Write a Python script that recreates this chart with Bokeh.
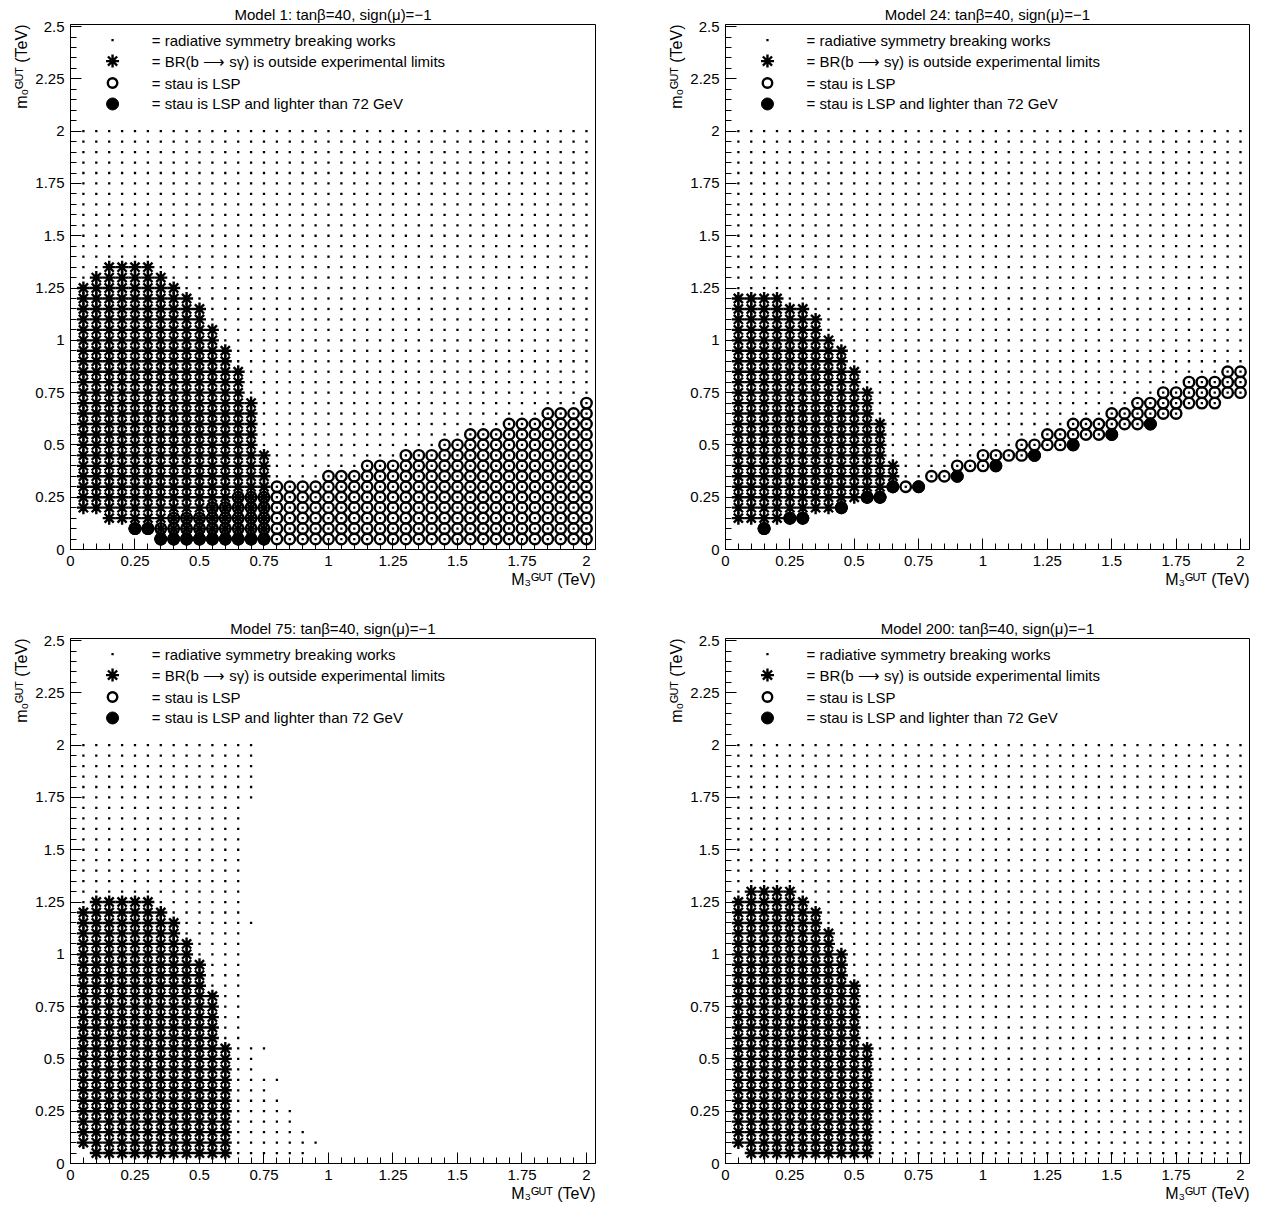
from bokeh.plotting import figure
from bokeh.models import Range1d, FixedTicker, CustomJSTickFormatter, Label, Title
from bokeh.layouts import column, row
from bokeh.embed import file_html
from bokeh.resources import INLINE

FONT = "Liberation Sans"

# ---------------- data (TeV) ----------------
# scan columns in M3^GUT
M3 = [0.05, 0.10, 0.15, 0.20, 0.25, 0.30, 0.35, 0.40, 0.45, 0.50,
      0.55, 0.60, 0.65, 0.70, 0.75, 0.80, 0.85, 0.90, 0.95, 1.00,
      1.05, 1.10, 1.15, 1.20, 1.25, 1.30, 1.35, 1.40, 1.45, 1.50,
      1.55, 1.60, 1.65, 1.70, 1.75, 1.80, 1.85, 1.90, 1.95, 2.00]

X_TICKS = [0, 0.25, 0.5, 0.75, 1.0, 1.25, 1.5, 1.75, 2.0]
Y_TICKS = [0, 0.25, 0.5, 0.75, 1.0, 1.25, 1.5, 1.75, 2.0, 2.25, 2.5]

TITLES = ["Model 1: tan\u03b2=40, sign(\u03bc)=\u22121",
          "Model 24: tan\u03b2=40, sign(\u03bc)=\u22121",
          "Model 75: tan\u03b2=40, sign(\u03bc)=\u22121",
          "Model 200: tan\u03b2=40, sign(\u03bc)=\u22121"]

X_LABEL = "M\u2083\u1d33\u1d41\u1d40 (TeV)"
Y_LABEL = "m\u2080\u1d33\u1d41\u1d40 (TeV)"

LEGEND_TEXT = ["= radiative symmetry breaking works",
               "= BR(b \u27f6 s\u03b3) is outside experimental limits",
               "= stau is LSP",
               "= stau is LSP and lighter than 72 GeV"]

# ---- Model 1 ----
M1_RSB_X = M3
M1_RSB_LO = [0.20, 0.20, 0.15, 0.15, 0.10, 0.10, 0.05, 0.05, 0.05, 0.05,
             0.05, 0.05, 0.05, 0.05, 0.05, 0.05, 0.05, 0.05, 0.05, 0.05,
             0.05, 0.05, 0.05, 0.05, 0.05, 0.05, 0.05, 0.05, 0.05, 0.05,
             0.05, 0.05, 0.05, 0.05, 0.05, 0.05, 0.05, 0.05, 0.05, 0.05]
M1_RSB_HI = [2.00, 2.00, 2.00, 2.00, 2.00, 2.00, 2.00, 2.00, 2.00, 2.00,
             2.00, 2.00, 2.00, 2.00, 2.00, 2.00, 2.00, 2.00, 2.00, 2.00,
             2.00, 2.00, 2.00, 2.00, 2.00, 2.00, 2.00, 2.00, 2.00, 2.00,
             2.00, 2.00, 2.00, 2.00, 2.00, 2.00, 2.00, 2.00, 2.00, 2.00]
M1_BSG_X = [0.05, 0.10, 0.15, 0.20, 0.25, 0.30, 0.35, 0.40, 0.45, 0.50, 0.55, 0.60, 0.65, 0.70, 0.75]
M1_BSG_LO = [0.20, 0.20, 0.15, 0.15, 0.10, 0.10, 0.05, 0.05, 0.05, 0.05, 0.05, 0.05, 0.05, 0.05, 0.05]
M1_BSG_HI = [1.25, 1.30, 1.35, 1.35, 1.35, 1.35, 1.30, 1.25, 1.20, 1.15, 1.05, 0.95, 0.85, 0.70, 0.45]
M1_LSP_X = [0.25, 0.30, 0.35, 0.40, 0.45, 0.50, 0.55, 0.60, 0.65, 0.70, 0.75,
            0.80, 0.85, 0.90, 0.95, 1.00, 1.05, 1.10, 1.15, 1.20, 1.25, 1.30,
            1.35, 1.40, 1.45, 1.50, 1.55, 1.60, 1.65, 1.70, 1.75, 1.80, 1.85,
            1.90, 1.95, 2.00]
M1_LSP_LO = [0.10, 0.10, 0.05, 0.05, 0.05, 0.05, 0.05, 0.05, 0.05, 0.05, 0.05,
             0.05, 0.05, 0.05, 0.05, 0.05, 0.05, 0.05, 0.05, 0.05, 0.05, 0.05,
             0.05, 0.05, 0.05, 0.05, 0.05, 0.05, 0.05, 0.05, 0.05, 0.05, 0.05,
             0.05, 0.05, 0.05]
M1_LSP_HI = [0.10, 0.10, 0.10, 0.15, 0.15, 0.15, 0.20, 0.20, 0.25, 0.25, 0.25,
             0.30, 0.30, 0.30, 0.30, 0.35, 0.35, 0.35, 0.40, 0.40, 0.40, 0.45,
             0.45, 0.45, 0.50, 0.50, 0.55, 0.55, 0.55, 0.60, 0.60, 0.60, 0.65,
             0.65, 0.65, 0.70]
M1_LIGHT_X = [0.25, 0.30, 0.35, 0.40, 0.45, 0.50, 0.55, 0.60, 0.65, 0.70, 0.75]
M1_LIGHT_Y = [0.10, 0.10, 0.05, 0.05, 0.05, 0.05, 0.05, 0.05, 0.05, 0.05, 0.05]

# ---- Model 24 ----
M24_RSB_X = M3
M24_RSB_LO = [0.15, 0.15, 0.10, 0.15, 0.15, 0.15, 0.20, 0.20, 0.20, 0.25,
              0.25, 0.25, 0.30, 0.30, 0.30, 0.35, 0.35, 0.35, 0.40, 0.40,
              0.40, 0.45, 0.45, 0.45, 0.50, 0.50, 0.50, 0.55, 0.55, 0.55,
              0.60, 0.60, 0.60, 0.65, 0.65, 0.70, 0.70, 0.70, 0.75, 0.75]
M24_RSB_HI = M1_RSB_HI
M24_BSG_X = [0.05, 0.10, 0.15, 0.20, 0.25, 0.30, 0.35, 0.40, 0.45, 0.50, 0.55, 0.60, 0.65]
M24_BSG_LO = [0.15, 0.15, 0.10, 0.15, 0.15, 0.15, 0.20, 0.20, 0.20, 0.25, 0.25, 0.25, 0.30]
M24_BSG_HI = [1.20, 1.20, 1.20, 1.20, 1.15, 1.15, 1.10, 1.00, 0.95, 0.85, 0.75, 0.60, 0.40]
M24_LSP_X = [0.15, 0.25, 0.30, 0.45, 0.55, 0.60, 0.65,
             0.70, 0.75, 0.80, 0.85, 0.90, 0.95, 1.00, 1.05, 1.10, 1.15,
             1.20, 1.25, 1.30, 1.35, 1.40, 1.45, 1.50, 1.55, 1.60, 1.65,
             1.70, 1.75, 1.80, 1.85, 1.90, 1.95, 2.00]
M24_LSP_LO = [0.10, 0.15, 0.15, 0.20, 0.25, 0.25, 0.30,
              0.30, 0.30, 0.35, 0.35, 0.35, 0.40, 0.40, 0.40, 0.45, 0.45,
              0.45, 0.50, 0.50, 0.50, 0.55, 0.55, 0.55, 0.60, 0.60, 0.60,
              0.65, 0.65, 0.70, 0.70, 0.70, 0.75, 0.75]
M24_LSP_HI = [0.10, 0.15, 0.15, 0.20, 0.25, 0.25, 0.30,
              0.30, 0.30, 0.35, 0.35, 0.40, 0.40, 0.45, 0.45, 0.45, 0.50,
              0.50, 0.55, 0.55, 0.60, 0.60, 0.60, 0.65, 0.65, 0.70, 0.70,
              0.75, 0.75, 0.80, 0.80, 0.80, 0.85, 0.85]
M24_LIGHT_X = [0.15, 0.25, 0.30, 0.45, 0.55, 0.60, 0.65, 0.75, 0.90, 1.05, 1.20, 1.35, 1.50, 1.65]
M24_LIGHT_Y = [0.10, 0.15, 0.15, 0.20, 0.25, 0.25, 0.30, 0.30, 0.35, 0.40, 0.45, 0.50, 0.55, 0.60]

# ---- Model 75 ----
M75_RSB_X = [0.05, 0.10, 0.15, 0.20, 0.25, 0.30, 0.35, 0.40, 0.45, 0.50,
             0.55, 0.60, 0.65, 0.70, 0.75, 0.80, 0.85, 0.90, 0.95,
             0.70, 0.70, 0.75, 0.80]
M75_RSB_LO = [0.10, 0.05, 0.05, 0.05, 0.05, 0.05, 0.05, 0.05, 0.05, 0.05,
              0.05, 0.05, 0.05, 0.05, 0.05, 0.05, 0.05, 0.05, 0.10,
              1.75, 1.15, 0.55, 0.40]
M75_RSB_HI = [2.00, 2.00, 2.00, 2.00, 2.00, 2.00, 2.00, 2.00, 2.00, 2.00,
              2.00, 2.00, 2.00, 0.55, 0.40, 0.30, 0.25, 0.15, 0.10,
              2.00, 1.15, 0.55, 0.40]
M75_BSG_X = [0.05, 0.10, 0.15, 0.20, 0.25, 0.30, 0.35, 0.40, 0.45, 0.50, 0.55, 0.60]
M75_BSG_LO = [0.10, 0.05, 0.05, 0.05, 0.05, 0.05, 0.05, 0.05, 0.05, 0.05, 0.05, 0.05]
M75_BSG_HI = [1.20, 1.25, 1.25, 1.25, 1.25, 1.25, 1.20, 1.15, 1.05, 0.95, 0.80, 0.55]

# ---- Model 200 ----
M200_RSB_X = M3
M200_RSB_LO = [0.10, 0.05, 0.05, 0.05, 0.05, 0.05, 0.05, 0.05, 0.05, 0.05,
               0.05, 0.05, 0.05, 0.05, 0.05, 0.05, 0.05, 0.05, 0.05, 0.05,
               0.05, 0.05, 0.05, 0.05, 0.05, 0.05, 0.05, 0.05, 0.05, 0.05,
               0.05, 0.05, 0.05, 0.05, 0.05, 0.05, 0.05, 0.05, 0.05, 0.05]
M200_RSB_HI = M1_RSB_HI
M200_BSG_X = [0.05, 0.10, 0.15, 0.20, 0.25, 0.30, 0.35, 0.40, 0.45, 0.50, 0.55]
M200_BSG_LO = [0.10, 0.05, 0.05, 0.05, 0.05, 0.05, 0.05, 0.05, 0.05, 0.05, 0.05]
M200_BSG_HI = [1.25, 1.30, 1.30, 1.30, 1.30, 1.25, 1.20, 1.10, 1.00, 0.85, 0.55]

GRID_STEP = 0.05


def expand(xs, los, his):
    """Turn per-column [lo, hi] ranges into the scan's grid points."""
    px, py = [], []
    for x, lo, hi in zip(xs, los, his):
        n = int(round((hi - lo) / GRID_STEP)) + 1
        for k in range(n):
            px.append(x)
            py.append(round(lo + GRID_STEP * k, 2))
    return px, py


def draw_dots(p, xs, ys):
    p.scatter(xs, ys, marker="square", size=2.3, fill_color="black", line_alpha=0)


def draw_stars(p, xs, ys):
    p.scatter(xs, ys, marker="asterisk", size=13, line_color="black", line_width=2.4)


def draw_rings(p, xs, ys, size=10.5):
    p.scatter(xs, ys, marker="circle", size=size, fill_alpha=0,
              line_color="black", line_width=2.4)


def draw_discs(p, xs, ys):
    p.scatter(xs, ys, marker="circle", size=12, fill_color="black",
              line_color="black", line_width=1)


def panel(title, rsb, bsg, lsp, light, width, height, left, right, top, bottom):
    p = figure(width=width, height=height,
               x_range=Range1d(0, 2.035), y_range=Range1d(0, 2.51),
               output_backend="svg", toolbar_location=None,
               min_border_left=left, min_border_right=right,
               min_border_top=top, min_border_bottom=bottom)
    p.xgrid.visible = False
    p.ygrid.visible = False
    p.background_fill_color = "white"
    p.border_fill_color = "white"
    p.outline_line_color = "black"
    p.outline_line_width = 1
    p.outline_line_alpha = 1

    fmt = CustomJSTickFormatter(code="return String(Math.round(tick*100)/100);")
    xminor = [round(0.05 * k, 2) for k in range(0, 41)]
    yminor = [round(0.05 * k, 2) for k in range(0, 51)]
    p.xaxis.ticker = FixedTicker(ticks=X_TICKS, minor_ticks=xminor)
    p.yaxis.ticker = FixedTicker(ticks=Y_TICKS, minor_ticks=yminor)
    for ax in (p.xaxis, p.yaxis):
        ax.formatter = fmt
        ax.axis_line_color = "black"
        ax.axis_line_width = 1
        ax.major_tick_line_color = "black"
        ax.minor_tick_line_color = "black"
        ax.major_tick_in = 11
        ax.major_tick_out = 0
        ax.minor_tick_in = 6
        ax.minor_tick_out = 0
        ax.major_label_text_font = FONT
        ax.major_label_text_font_size = "15px"
        ax.major_label_text_color = "black"
    p.xaxis.major_label_standoff = 6
    p.yaxis.major_label_standoff = 6

    # data points
    draw_dots(p, *expand(*rsb))
    if lsp is not None:
        draw_rings(p, *expand(*lsp))
    draw_stars(p, *expand(*bsg))
    if light is not None:
        draw_discs(p, *light)

    # legend (data coordinates inside the frame)
    lx, tx = 0.163, 0.315
    ly = [2.435, 2.335, 2.23, 2.13]
    draw_dots(p, [lx], [ly[0]])
    draw_stars(p, [lx], [ly[1]])
    draw_rings(p, [lx], [ly[2]], size=9.5)
    draw_discs(p, [lx], [ly[3]])
    for yy, t in zip(ly, LEGEND_TEXT):
        p.add_layout(Label(x=tx, y=yy, text=t, text_font=FONT, text_font_size="15px",
                           text_baseline="middle", text_color="black"))

    # title and axis labels as side-panel titles
    p.add_layout(Title(text=title, align="center", text_font=FONT,
                       text_font_size="15px", text_font_style="normal",
                       text_color="black", standoff=3), "above")
    p.add_layout(Title(text=X_LABEL, align="right", text_font=FONT,
                       text_font_size="16px", text_font_style="normal",
                       text_color="black", standoff=0), "below")
    p.add_layout(Title(text=Y_LABEL, align="right", text_font=FONT,
                       text_font_size="16px", text_font_style="normal",
                       text_color="black", standoff=6), "left")
    return p


p1 = panel(TITLES[0], (M1_RSB_X, M1_RSB_LO, M1_RSB_HI),
           (M1_BSG_X, M1_BSG_LO, M1_BSG_HI),
           (M1_LSP_X, M1_LSP_LO, M1_LSP_HI),
           (M1_LIGHT_X, M1_LIGHT_Y), 662, 599, 70, 67, 24, 50)
p2 = panel(TITLES[1], (M24_RSB_X, M24_RSB_LO, M24_RSB_HI),
           (M24_BSG_X, M24_BSG_LO, M24_BSG_HI),
           (M24_LSP_X, M24_LSP_LO, M24_LSP_HI),
           (M24_LIGHT_X, M24_LIGHT_Y), 597, 599, 62, 10, 24, 50)
p3 = panel(TITLES[2], (M75_RSB_X, M75_RSB_LO, M75_RSB_HI),
           (M75_BSG_X, M75_BSG_LO, M75_BSG_HI),
           None, None, 662, 609, 70, 67, 39, 45)
p4 = panel(TITLES[3], (M200_RSB_X, M200_RSB_LO, M200_RSB_HI),
           (M200_BSG_X, M200_BSG_LO, M200_BSG_HI),
           None, None, 597, 609, 62, 10, 39, 45)

layout = column(row(p1, p2), row(p3, p4))
open("out.html", "w").write(file_html(layout, INLINE))
